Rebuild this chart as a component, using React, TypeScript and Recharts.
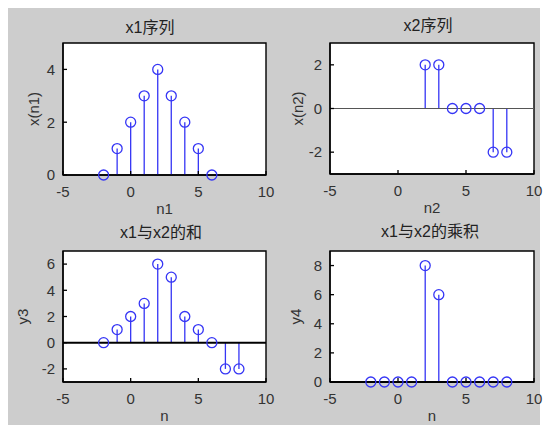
import React from 'react';
import { ScatterChart, Scatter, XAxis, YAxis, ReferenceLine, ReferenceArea } from 'recharts';

// sequences
const n1 = [-2, -1, 0, 1, 2, 3, 4, 5, 6];
const x1 = [0, 1, 2, 3, 4, 3, 2, 1, 0];
const n2 = [2, 3, 4, 5, 6, 7, 8];
const x2 = [2, 2, 0, 0, 0, -2, -2];
const n = [-2, -1, 0, 1, 2, 3, 4, 5, 6, 7, 8];
const y3 = [0, 1, 2, 3, 6, 5, 2, 1, 0, -2, -2];
const y4 = [0, 0, 0, 0, 8, 6, 0, 0, 0, 0, 0];

const xTicks = [-5, 0, 5, 10];
const xDomain: [number, number] = [-5, 10];

const BLUE = '#3535f5';
const FONT = '"Liberation Sans", Arial, "Noto Sans CJK SC", sans-serif';
const TEXT = '#333';

interface PanelDef {
  title: string;
  titleAt: [number, number];
  xLabel: string;
  yLabel: string;
  yLabelDist: number;
  ns: number[];
  vs: number[];
  yDomain: [number, number];
  yTicks: number[];
  baseline?: { stroke: string; width: number };
  box: [number, number, number, number]; // left, top, width, height
  plot: [number, number, number, number]; // x0, y0, x1, y1
}

const panels: PanelDef[] = [
  {
    title: 'x1序列', titleAt: [142, 20], xLabel: 'n1', yLabel: 'x(n1)', yLabelDist: 30,
    ns: n1, vs: x1, yDomain: [0, 5], yTicks: [0, 2, 4],
    box: [0, 0, 266, 210], plot: [55, 35, 258, 167],
  },
  {
    title: 'x2序列', titleAt: [420, 18], xLabel: 'n2', yLabel: 'x(n2)', yLabelDist: 33,
    ns: n2, vs: x2, yDomain: [-3, 3], yTicks: [-2, 0, 2],
    baseline: { stroke: '#555', width: 1.2 },
    box: [266, 0, 266, 210], plot: [322, 35, 526, 166],
  },
  {
    title: 'x1与x2的和', titleAt: [153, 225], xLabel: 'n', yLabel: 'y3', yLabelDist: 41,
    ns: n, vs: y3, yDomain: [-3, 7], yTicks: [-2, 0, 2, 4, 6],
    baseline: { stroke: '#000', width: 2 },
    box: [0, 210, 266, 207], plot: [55, 243, 258, 374],
  },
  {
    title: 'x1与x2的乘积', titleAt: [422, 224], xLabel: 'n', yLabel: 'y4', yLabelDist: 35,
    ns: n, vs: y4, yDomain: [0, 9], yTicks: [0, 2, 4, 6, 8],
    baseline: { stroke: '#000', width: 2 },
    box: [266, 210, 266, 207], plot: [322, 243, 526, 374],
  },
];

const X_AXIS_H = 28;

function Stem(p: any) {
  return <circle cx={p.cx} cy={p.cy} r={5} fill="none" stroke={BLUE} strokeWidth={1.3} />;
}

function Panel({ def }: { def: PanelDef }) {
  const [bl, bt, bw, bh] = def.box;
  const [px0, py0, px1, py1] = def.plot;
  const data = def.ns.map((k, i) => ({ n: k, v: def.vs[i] }));
  const margin = {
    top: py0 - bt,
    right: bl + bw - px1,
    left: 0,
    bottom: bh - (py1 - bt) - X_AXIS_H,
  };
  const tickStyle = { fill: TEXT, fontSize: 15, fontFamily: FONT };

  const yLabel = (props: any) => {
    const { x, y, width, height } = props.viewBox;
    const cx = x + width - def.yLabelDist;
    const cy = y + height / 2;
    return (
      <text x={cx} y={cy} transform={`rotate(-90, ${cx}, ${cy})`} textAnchor="middle"
        dominantBaseline="central" fontSize={15} fontFamily={FONT} fill={TEXT}>
        {def.yLabel}
      </text>
    );
  };

  return (
    <div style={{ position: 'absolute', left: bl, top: bt }}>
      <ScatterChart width={bw} height={bh} margin={margin}>
        {/* white axes box with black frame */}
        <ReferenceArea x1={xDomain[0]} x2={xDomain[1]} y1={def.yDomain[0]} y2={def.yDomain[1]}
          fill="#fff" fillOpacity={1} stroke="#000" strokeWidth={1.4} />
        <XAxis type="number" dataKey="n" domain={xDomain} ticks={xTicks} stroke="#000" strokeWidth={1.3}
          tickSize={-4} tickMargin={15} tick={tickStyle} height={X_AXIS_H} interval={0}
          label={{ value: def.xLabel, position: 'bottom', offset: 0, fill: TEXT, fontSize: 15, fontFamily: FONT }} />
        <XAxis xAxisId="top" orientation="top" type="number" domain={xDomain} ticks={xTicks}
          stroke="#000" strokeWidth={1.3} tickSize={-4} tick={false} height={0} />
        <YAxis type="number" dataKey="v" domain={def.yDomain} ticks={def.yTicks} stroke="#000" strokeWidth={1.3}
          tickSize={-4} tickMargin={12} tick={tickStyle} width={px0 - bl} interval={0}
          label={{ content: yLabel }} />
        <YAxis yAxisId="right" orientation="right" type="number" domain={def.yDomain} ticks={def.yTicks}
          stroke="#000" strokeWidth={1.3} tickSize={-4} tick={false} width={0} />
        {data.map((d) => (
          <ReferenceLine key={d.n} segment={[{ x: d.n, y: 0 }, { x: d.n, y: d.v }]}
            stroke={BLUE} strokeWidth={1.3} />
        ))}
        {def.baseline && (
          <ReferenceLine y={0} stroke={def.baseline.stroke} strokeWidth={def.baseline.width} />
        )}
        <Scatter data={data} shape={Stem} isAnimationActive={false} />
      </ScatterChart>
    </div>
  );
}

export default function App() {
  return (
    <div style={{ position: 'absolute', left: 8, top: 8, width: 532, height: 417, background: '#cdcdcd', fontFamily: FONT }}>
      <style>{'.recharts-surface { overflow: visible; }'}</style>
      {panels.map((p) => (
        <Panel key={p.title} def={p} />
      ))}
      {panels.map((p) => (
        <div key={'t' + p.title} style={{
          position: 'absolute', left: p.titleAt[0] - 80, top: p.titleAt[1] - 10, width: 160,
          textAlign: 'center', fontSize: 16, lineHeight: '20px', color: '#222',
          fontFamily: '"Liberation Sans", Arial, "Noto Sans CJK SC", sans-serif',
        }}>
          {p.title}
        </div>
      ))}
    </div>
  );
}
